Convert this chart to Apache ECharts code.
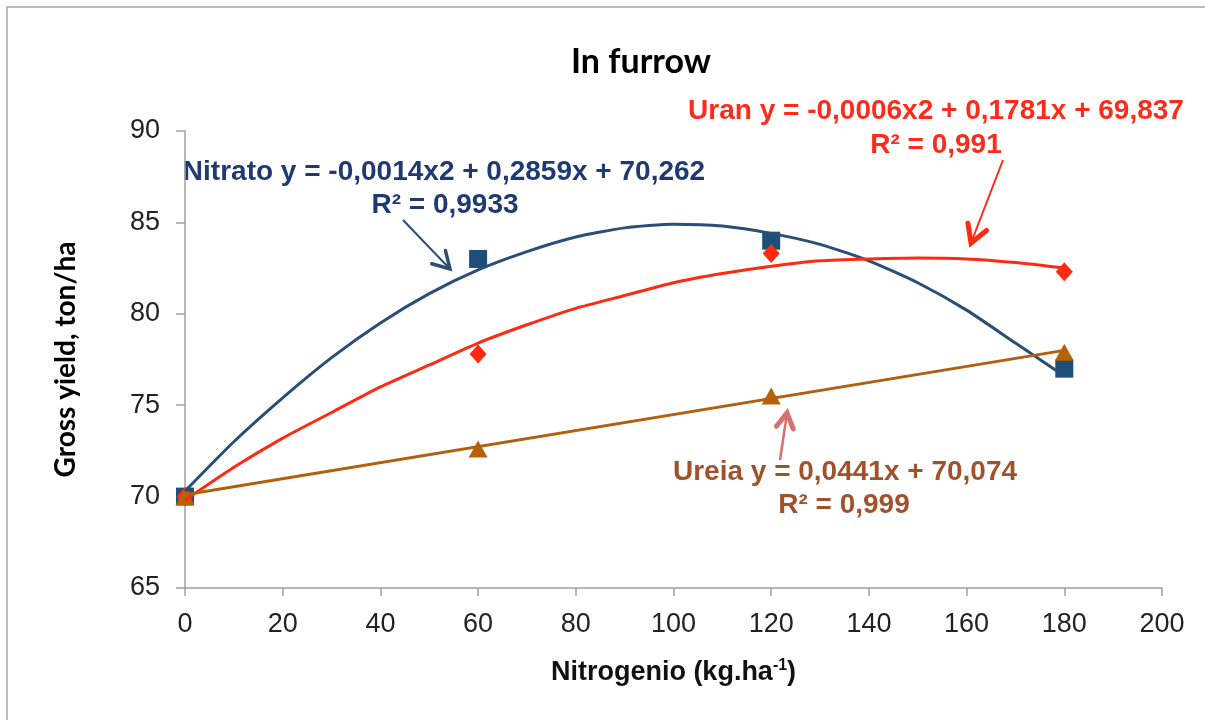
<!DOCTYPE html>
<html>
<head>
<meta charset="utf-8">
<script src="https://cdn.jsdelivr.net/npm/echarts@6/dist/echarts.min.js"></script>
<style>html,body{margin:0;padding:0;background:#fff}#c{width:1205px;height:720px}</style>
</head>
<body>
<div id="c"></div>
<script>
// ---- data ----
const xTicks = [0, 20, 40, 60, 80, 100, 120, 140, 160, 180, 200];
const yTicks = [65, 70, 75, 80, 85, 90];
const doses = [0, 60, 120, 180];
const nitrato = [70.0, 83.0, 84.0, 77.0];
const uran = [70.0, 77.8, 83.3, 82.3];
const ureia = [70.0, 72.6, 75.5, 77.9];
// trend curves
const trendX = [0, 10, 20, 30, 40, 50, 60, 70, 80, 90, 100, 110, 120, 130, 140, 150, 160, 170, 180];
const nitratoTrend = [70.3, 73.0, 75.4, 77.6, 79.5, 81.1, 82.4, 83.4, 84.2, 84.7, 84.9, 84.8, 84.4, 83.8, 82.9, 81.7, 80.2, 78.4, 76.6];
const uranTrend = [69.8, 71.6, 73.2, 74.6, 76.0, 77.2, 78.4, 79.4, 80.3, 81.0, 81.7, 82.2, 82.6, 82.9, 83.0, 83.05, 83.0, 82.8, 82.5];
const ureiaTrendX = [0, 180];
const ureiaTrend = [70.1, 78.0];
const labels = {
  nitrato: ['Nitrato y = -0,0014x2 + 0,2859x + 70,262', 'R² = 0,9933'],
  uran: ['Uran y = -0,0006x2 + 0,1781x + 69,837', 'R² = 0,991'],
  ureia: ['Ureia y = 0,0441x + 70,074', 'R² = 0,999']
};

const pairs = (xs, ys) => xs.map((x, i) => [x, ys[i]]);

function arrow(x1, y1, x2, y2, color, shaftW, headW, headLen) {
  const dx = x1 - x2, dy = y1 - y2, L = Math.hypot(dx, dy);
  const ux = dx / L, uy = dy / L;
  const a = Math.PI / 6;
  const r1 = [x2 + headLen * (ux * Math.cos(a) - uy * Math.sin(a)), y2 + headLen * (ux * Math.sin(a) + uy * Math.cos(a))];
  const r2 = [x2 + headLen * (ux * Math.cos(-a) - uy * Math.sin(-a)), y2 + headLen * (ux * Math.sin(-a) + uy * Math.cos(-a))];
  return [
    { type: 'line', shape: { x1, y1, x2, y2 }, style: { stroke: color, lineWidth: shaftW } },
    { type: 'polyline', shape: { points: [r1, [x2, y2], r2] }, style: { stroke: color, lineWidth: headW, fill: null, lineJoin: 'miter', lineCap: 'round' } }
  ];
}
function txt(t, cx, cy, color) {
  return { type: 'text', x: cx, y: cy, style: { text: t, fill: color, font: 'bold 28px "Liberation Sans", Arial, sans-serif', align: 'center', verticalAlign: 'middle' } };
}

const chart = echarts.init(document.getElementById('c'), null, { renderer: 'canvas' });
const axisFont = { fontFamily: '"Liberation Sans", Arial, sans-serif', fontSize: 27, color: '#222' };

chart.setOption({
  animation: false,
  backgroundColor: '#fff',
  title: {
    text: 'In furrow', left: 566, top: 40,
    textStyle: { fontFamily: 'Lato, "Open Sans", sans-serif', fontWeight: 'bold', fontSize: 34, color: '#000' }
  },
  grid: { left: 185, right: 43, top: 131, bottom: 132 },
  xAxis: {
    type: 'value', min: xTicks[0], max: xTicks[xTicks.length - 1], interval: 20,
    axisLine: { lineStyle: { color: '#a0a0a0', width: 1.5 } },
    axisTick: { show: true, inside: false, length: 8, lineStyle: { color: '#a0a0a0', width: 1.5 } },
    splitLine: { show: false },
    axisLabel: Object.assign({ margin: 23 }, axisFont),
    name: '{a|Nitrogenio (kg.ha}{s|-1}{a|)}', nameLocation: 'middle', nameGap: 70,
    nameTextStyle: {
      rich: {
        a: { fontFamily: '"Liberation Sans", Arial, sans-serif', fontWeight: 'bold', fontSize: 27, color: '#111', lineHeight: 30 },
        s: { fontFamily: '"Liberation Sans", Arial, sans-serif', fontWeight: 'bold', fontSize: 16, color: '#111', lineHeight: 30, verticalAlign: 'top', padding: [0, 0, 14, 0] }
      }
    }
  },
  yAxis: {
    type: 'value', min: yTicks[0], max: yTicks[yTicks.length - 1], interval: 5,
    axisLine: { show: true, lineStyle: { color: '#a0a0a0', width: 1.5 } },
    axisTick: { show: true, inside: false, length: 9, lineStyle: { color: '#a0a0a0', width: 1.5 } },
    splitLine: { show: false },
    axisLabel: Object.assign({ margin: 25 }, axisFont),
    name: 'Gross yield, ton/ha', nameLocation: 'middle', nameGap: 105, nameRotate: 90,
    nameTextStyle: { fontFamily: 'Lato, "Open Sans", sans-serif', fontWeight: 'bold', fontSize: 28, color: '#000' }
  },
  series: [
    { name: 'Nitrato', type: 'scatter', data: pairs(doses, nitrato), symbol: 'rect', symbolSize: 18, itemStyle: { color: '#1f4e79', opacity: 1 }, z: 3 },
    { name: 'Uran', type: 'scatter', data: pairs(doses, uran), symbol: 'diamond', symbolSize: [17, 19], itemStyle: { color: '#ff2a12', opacity: 1 }, z: 3 },
    { name: 'Ureia', type: 'scatter', data: pairs(doses, ureia), symbol: 'triangle', symbolSize: [19, 17], itemStyle: { color: '#b5620b', opacity: 1 }, z: 3 },
    { name: 'Nitrato trend', type: 'line', data: pairs(trendX, nitratoTrend), smooth: 0.2, showSymbol: false, lineStyle: { color: '#2a4e74', width: 3 }, z: 4 },
    { name: 'Uran trend', type: 'line', data: pairs(trendX, uranTrend), smooth: 0.2, showSymbol: false, lineStyle: { color: '#ff2a12', width: 3 }, z: 4 },
    { name: 'Ureia trend', type: 'line', data: pairs(ureiaTrendX, ureiaTrend), showSymbol: false, lineStyle: { color: '#b0600f', width: 3 }, z: 4 }
  ],
  graphic: [
    { type: 'rect', shape: { x: 7, y: 7, width: 1260, height: 800 }, style: { stroke: '#a6a6a6', lineWidth: 1.5, fill: null }, silent: true },
    txt(labels.nitrato[0], 444, 172, '#1f3a72'),
    txt(labels.nitrato[1], 445, 205, '#1f3a72'),
    txt(labels.uran[0], 936, 111, '#ff2a1a'),
    txt(labels.uran[1], 936, 145, '#ff2a1a'),
    txt(labels.ureia[0], 845, 472, '#a0522d'),
    txt(labels.ureia[1], 844, 505, '#a0522d'),
    ...arrow(403, 220, 450, 269, '#2e4f73', 2, 3.5, 19),
    ...arrow(1003, 160, 971, 243, '#ff2a12', 2, 5, 20),
    ...arrow(780, 460, 787, 413, '#d87070', 2.5, 5, 17)
  ]
});
</script>
</body>
</html>
